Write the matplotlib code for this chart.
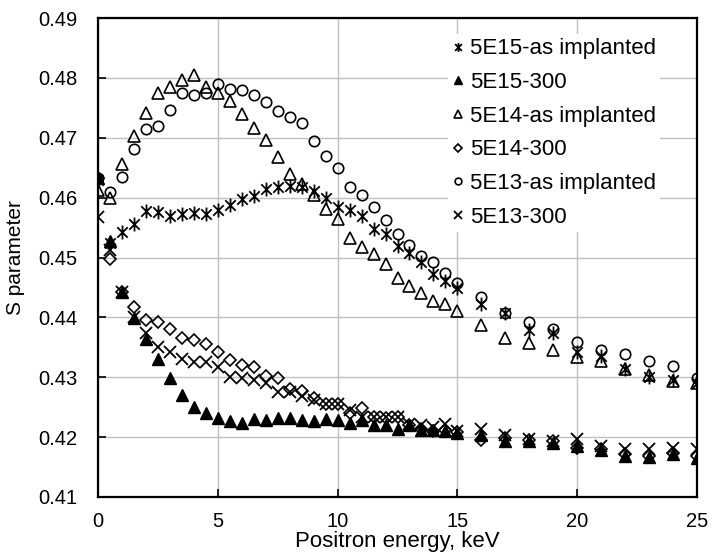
import numpy as np
import matplotlib
matplotlib.use("Agg")
import matplotlib.pyplot as plt
from matplotlib.path import Path

plt.rcParams['font.family'] = ['Liberation Sans', 'DejaVu Sans']

# positron energy, keV
energy = [0, 0.5, 1, 1.5, 2, 2.5, 3, 3.5, 4, 4.5, 5, 5.5, 6, 6.5, 7, 7.5, 8, 8.5,
          9, 9.5, 10, 10.5, 11, 11.5, 12, 12.5, 13, 13.5, 14, 14.5, 15,
          16, 17, 18, 19, 20, 21, 22, 23, 24, 25]

s15_as = [0.4630, 0.4524, 0.4542, 0.4556, 0.4577, 0.4576, 0.4570, 0.4573, 0.4575, 0.4573,
          0.4579, 0.4588, 0.4597, 0.4603, 0.4614, 0.4617, 0.4619, 0.4617, 0.4611, 0.4600,
          0.4585, 0.4579, 0.4570, 0.4547, 0.4539, 0.4519, 0.4507, 0.4492, 0.4472, 0.4461,
          0.4449, 0.4423, 0.4408, 0.4379, 0.4374, 0.4342, 0.4336, 0.4314, 0.4301, 0.4295,
          0.4290]
s15_300 = [0.4632, 0.4527, 0.4443, 0.4399, 0.4364, 0.4330, 0.4298, 0.4270, 0.4250, 0.4241,
           0.4232, 0.4227, 0.4224, 0.4230, 0.4229, 0.4232, 0.4232, 0.4229, 0.4227, 0.4230,
           0.4229, 0.4223, 0.4229, 0.4221, 0.4221, 0.4214, 0.4221, 0.4212, 0.4212, 0.4211,
           0.4207, 0.4203, 0.4194, 0.4194, 0.4191, 0.4185, 0.4179, 0.4168, 0.4167, 0.4171,
           0.4165]
s14_as = [0.4612, 0.4600, 0.4656, 0.4703, 0.4742, 0.4775, 0.4785, 0.4797, 0.4804, 0.4785,
          0.4775, 0.4762, 0.4739, 0.4716, 0.4697, 0.4668, 0.4640, 0.4623, 0.4604, 0.4581,
          0.4564, 0.4533, 0.4517, 0.4506, 0.4489, 0.4466, 0.4452, 0.4440, 0.4427, 0.4423,
          0.4410, 0.4388, 0.4366, 0.4358, 0.4345, 0.4333, 0.4327, 0.4314, 0.4304, 0.4293,
          0.4290]
s14_300 = [0.4632, 0.4498, 0.4443, 0.4417, 0.4396, 0.4393, 0.4381, 0.4366, 0.4363, 0.4356,
           0.4343, 0.4328, 0.4320, 0.4317, 0.4302, 0.4299, 0.4281, 0.4277, 0.4266, 0.4255,
           0.4255, 0.4240, 0.4249, 0.4233, 0.4232, 0.4234, 0.4221, 0.4214, 0.4211, 0.4212,
           0.4209, 0.4196, 0.4199, 0.4195, 0.4194, 0.4182, 0.4180, 0.4171, 0.4168, 0.4173,
           0.4168]
s13_as = [0.4632, 0.4609, 0.4634, 0.4682, 0.4714, 0.4720, 0.4746, 0.4774, 0.4771, 0.4774,
          0.4789, 0.4782, 0.4779, 0.4772, 0.4759, 0.4745, 0.4735, 0.4724, 0.4694, 0.4669,
          0.4649, 0.4617, 0.4604, 0.4584, 0.4562, 0.4540, 0.4521, 0.4503, 0.4493, 0.4474,
          0.4457, 0.4434, 0.4408, 0.4392, 0.4381, 0.4359, 0.4345, 0.4339, 0.4327, 0.4319,
          0.4298]
s13_300 = [0.4568, 0.4513, 0.4443, 0.4400, 0.4374, 0.4350, 0.4343, 0.4330, 0.4326, 0.4326,
           0.4317, 0.4301, 0.4298, 0.4295, 0.4291, 0.4275, 0.4275, 0.4269, 0.4262, 0.4255,
           0.4255, 0.4246, 0.4234, 0.4233, 0.4234, 0.4234, 0.4222, 0.4221, 0.4217, 0.4222,
           0.4211, 0.4214, 0.4203, 0.4197, 0.4194, 0.4197, 0.4185, 0.4181, 0.4180, 0.4182,
           0.4181]

labels = ['5E15-as implanted', '5E15-300', '5E14-as implanted',
          '5E14-300', '5E13-as implanted', '5E13-300']

# excel style star: vertical bar + x
star = Path([(0, -1), (0, 1), (-0.75, -0.75), (0.75, 0.75), (-0.75, 0.75), (0.75, -0.75)],
            [Path.MOVETO, Path.LINETO, Path.MOVETO, Path.LINETO, Path.MOVETO, Path.LINETO])

fig = plt.figure(figsize=(7.17, 5.56), dpi=100)
ax = fig.add_axes([98 / 717, 1 - 497 / 556, 599 / 717, 479 / 556])

ax.plot(energy, s15_as, ls='none', marker=star, ms=10, mew=1.3, color='black', label=labels[0])
ax.plot(energy, s15_300, ls='none', marker='^', ms=8, color='black', label=labels[1])
ax.plot(energy, s14_as, ls='none', marker='^', ms=8.5, mfc='none', mec='black', mew=1.2, label=labels[2])
ax.plot(energy, s14_300, ls='none', marker='D', ms=6, mfc='none', mec='black', mew=1.2, label=labels[3])
ax.plot(energy, s13_as, ls='none', marker='o', ms=7.5, mfc='none', mec='black', mew=1.2, label=labels[4])
ax.plot(energy, s13_300, ls='none', marker='x', ms=8, mew=1.3, color='black', label=labels[5])

ax.set_xlim(0, 25)
ax.set_ylim(0.41, 0.49)
ax.set_xticks([0, 5, 10, 15, 20, 25])
ax.set_yticks([0.41, 0.42, 0.43, 0.44, 0.45, 0.46, 0.47, 0.48, 0.49])
ax.set_yticklabels(['0.41', '0.42', '0.43', '0.44', '0.45', '0.46', '0.47', '0.48', '0.49'])
ax.grid(True, color='#c0c0c0', lw=1)
ax.set_axisbelow(True)
for sp in ax.spines.values():
    sp.set_linewidth(1.6)
ax.tick_params(direction='in', length=6, width=1.2, labelsize=14.5)
ax.tick_params(axis='x', pad=11)
ax.tick_params(axis='y', pad=15)

ax.set_xlabel('Positron energy, keV', fontsize=16, labelpad=0)
ax.set_ylabel('S parameter', fontsize=15)
ax.yaxis.set_label_coords(-0.122, 0.5)

leg = ax.legend(loc='upper left', bbox_to_anchor=(0.565, 0.99), fontsize=16,
                frameon=True, facecolor='white', edgecolor='none', framealpha=1,
                fancybox=False, handlelength=0.5, handletextpad=0.3, markerscale=0.65,
                labelspacing=0.57, borderpad=0.2)

fig.savefig('out.png', dpi=100)
